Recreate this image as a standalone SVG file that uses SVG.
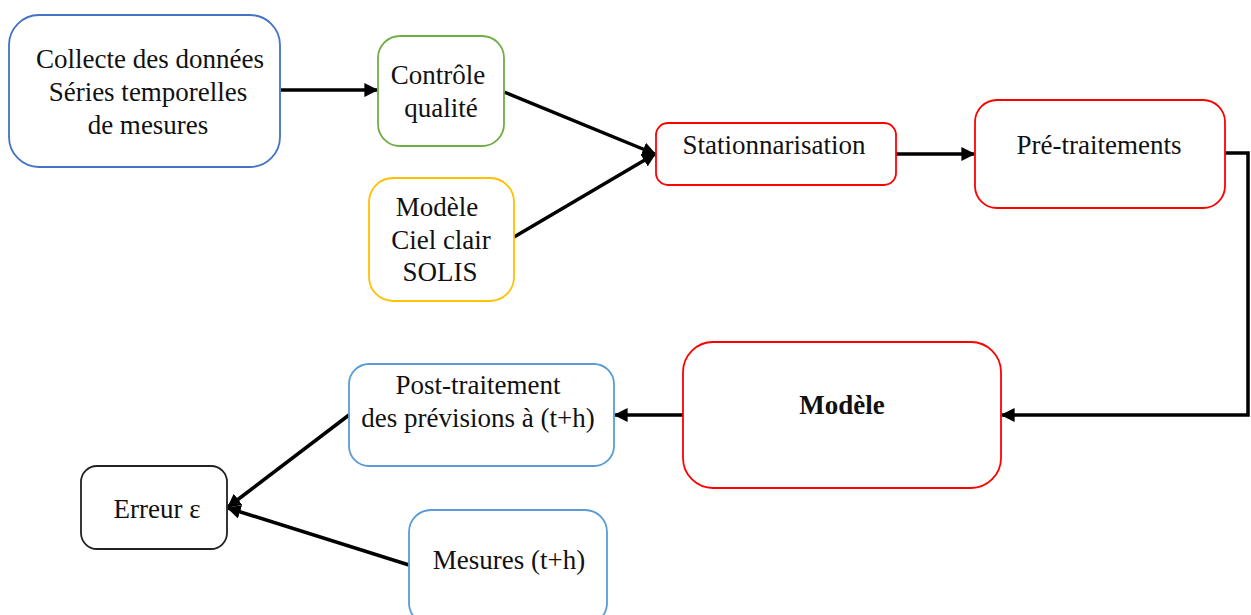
<svg xmlns="http://www.w3.org/2000/svg" width="1251" height="615" viewBox="0 0 1251 615">
<defs>
<marker id="ah" viewBox="0 0 10 10" refX="9" refY="5" markerWidth="4" markerHeight="4" orient="auto" markerUnits="strokeWidth">
<path d="M0,0 L10,5 L0,10 z" fill="#000"/>
</marker>
</defs>
<style>
.n{fill:#fff;stroke-width:1.8}
.t{font-family:"Liberation Serif","Times New Roman",serif;font-size:27px;fill:#111;text-anchor:middle}
.b{font-weight:bold}
.c{fill:none;stroke:#000;stroke-width:3.5;marker-end:url(#ah)}
</style>
<rect width="1251" height="615" fill="#fff"/>
<g id="connectors">
<line class="c" x1="281" y1="90" x2="377" y2="90"/>
<line class="c" x1="504" y1="92" x2="655" y2="154"/>
<line class="c" x1="514" y1="237" x2="655" y2="154"/>
<line class="c" x1="896" y1="154" x2="974" y2="154"/>
<polyline class="c" points="1225,153 1248,153 1248,415 1002,415"/>
<line class="c" x1="683" y1="415" x2="615" y2="415"/>
<line class="c" x1="349" y1="415" x2="228" y2="507"/>
<line class="c" x1="409" y1="565" x2="228" y2="508"/>
</g>
<g id="collecte">
<rect class="n" x="9" y="15" width="271" height="152" rx="30" stroke="#4472c4"/>
<text class="t" x="150" y="68">Collecte des données</text>
<text class="t" x="148" y="101">Séries temporelles</text>
<text class="t" x="148" y="134">de mesures</text>
</g>
<g id="controle">
<rect class="n" x="378" y="36" width="126" height="110" rx="22" stroke="#70ad47"/>
<text class="t" x="438" y="84">Contrôle</text>
<text class="t" x="441" y="117">qualité</text>
</g>
<g id="solis">
<rect class="n" x="369" y="178" width="145" height="123" rx="24" stroke="#ffc000"/>
<text class="t" x="437" y="216">Modèle</text>
<text class="t" x="441" y="249">Ciel clair</text>
<text class="t" x="440" y="281">SOLIS</text>
</g>
<g id="stationnarisation">
<rect class="n" x="656" y="123" width="240" height="62" rx="12" stroke="#ff0000"/>
<text class="t" x="774" y="154">Stationnarisation</text>
</g>
<g id="pretraitements">
<rect class="n" x="975" y="100" width="250" height="108" rx="22" stroke="#ff0000"/>
<text class="t" x="1099" y="154">Pré-traitements</text>
</g>
<g id="modele">
<rect class="n" x="683" y="342" width="318" height="146" rx="30" stroke="#ff0000"/>
<text class="t b" x="842" y="414">Modèle</text>
</g>
<g id="posttraitement">
<rect class="n" x="349" y="364" width="265" height="102" rx="20" stroke="#5b9bd5"/>
<text class="t" x="478" y="394">Post-traitement</text>
<text class="t" x="478" y="427">des prévisions à (t+h)</text>
</g>
<g id="erreur">
<rect class="n" x="81" y="466" width="146" height="83" rx="16" stroke="#222"/>
<text class="t" x="157" y="518">Erreur ε</text>
</g>
<g id="mesures">
<rect class="n" x="409" y="510" width="198" height="115" rx="22" stroke="#5b9bd5"/>
<text class="t" x="509" y="569">Mesures (t+h)</text>
</g>
</svg>
